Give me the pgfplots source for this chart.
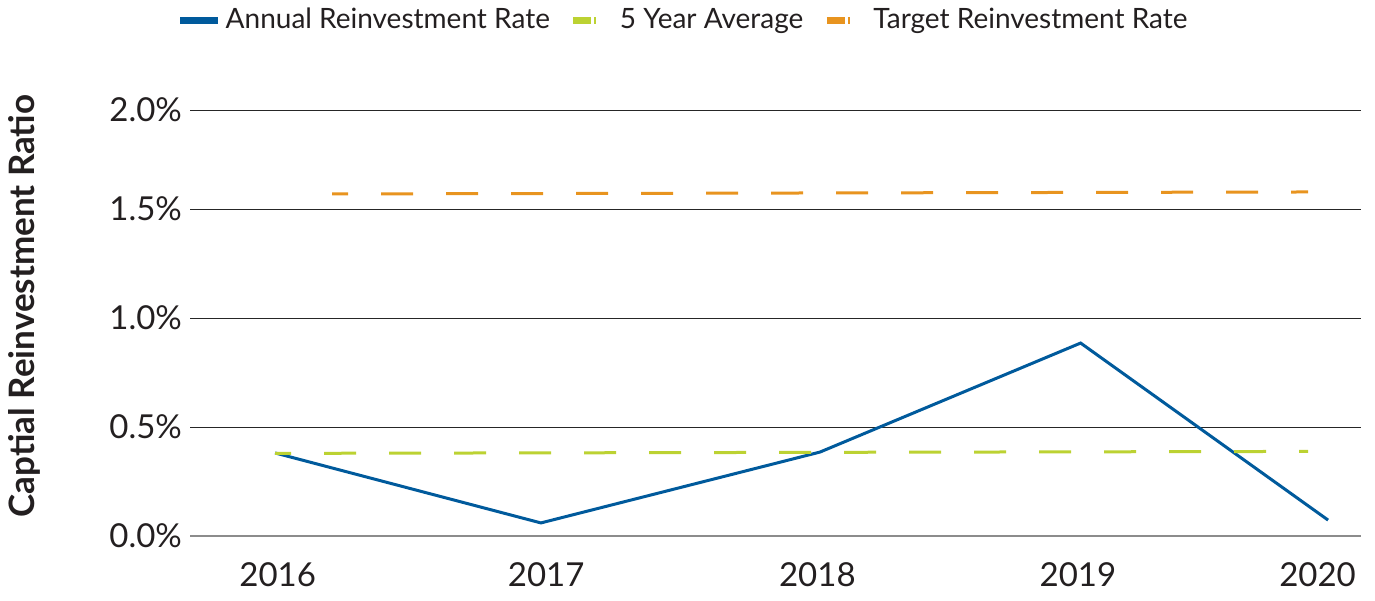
\documentclass[border=0pt]{standalone}
\usepackage{pgfplots}
\pgfplotsset{compat=1.18}
\usepackage{fontspec}
\setmainfont{Lato}
\definecolor{cblue}{HTML}{005A9C}
\definecolor{cgreen}{HTML}{BCD232}
\definecolor{corange}{HTML}{E8941F}
\definecolor{ctext}{HTML}{231F20}
\begin{document}
\begin{tikzpicture}
\useasboundingbox (0,0) rectangle (687.5pt,300pt);
\begin{axis}[
  at={(95pt,32pt)}, anchor=south west,
  scale only axis, width=585.5pt, height=213pt,
  xmin=2015.677, xmax=2020.125, ymin=0, ymax=1.954,
  axis line style={draw=none},
  major tick length=0pt,
  xtick={2016.01,2017.03,2018.06,2019.05,2019.96},
  xticklabels={2016,2017,2018,2019,2020},
  ytick={0.5,1,1.5,1.954},
  yticklabels={0.5\%,1.0\%,1.5\%,2.0\%},
  extra y ticks={0},
  extra y tick labels={0.0\%},
  extra y tick style={grid style={draw=black!45, line width=0.9pt}},
  ymajorgrids,
  grid style={draw=black!85, line width=0.45pt},
  tick label style={font=\fontsize{16.5}{19}\selectfont, text=ctext},
  yticklabel style={xshift=-0.5pt},
  xticklabel style={yshift=-10pt},
  ylabel={Captial Reinvestment Ratio},
  ylabel style={at={(axis description cs:-0.141,0.54)}, anchor=center, font=\fontsize{17.5}{20}\selectfont\bfseries, text=ctext},
  legend columns=3,
  legend style={at={(0.422,1.211)}, anchor=center, draw=none, fill=none,
    font=\fontsize{14}{17}\selectfont, text=ctext,
    /tikz/every even column/.append style={column sep=8pt},
    legend cell align=left},
]
\addplot[cblue, line width=1.5pt, legend image code/.code={\draw[cblue, line width=3.5pt] (0pt,0pt) -- (19pt,0pt);}]
  coordinates {(2016,0.381) (2017.01,0.06) (2018.07,0.385) (2019.06,0.885) (2020,0.073)};
\addlegendentry{Annual Reinvestment Rate}
\addplot[cgreen, line width=1.5pt, dash pattern=on 16pt off 16.5pt, dash phase=8pt,
  legend image code/.code={\draw[cgreen, line width=3.5pt, dash pattern=on 17pt off 1.5pt on 1pt] (0pt,0pt) -- (19.5pt,0pt);}]
  coordinates {(2016,0.379) (2019.924,0.388)};
\addlegendentry{5 Year Average}
\addplot[corange, line width=1.5pt, dash pattern=on 16pt off 16.5pt, dash phase=8pt,
  legend image code/.code={\draw[corange, line width=3.5pt, dash pattern=on 17pt off 1.5pt on 1pt] (0pt,0pt) -- (19.5pt,0pt);}]
  coordinates {(2016.217,1.569) (2019.924,1.578)};
\addlegendentry{Target Reinvestment Rate}
\end{axis}
\end{tikzpicture}
\end{document}
